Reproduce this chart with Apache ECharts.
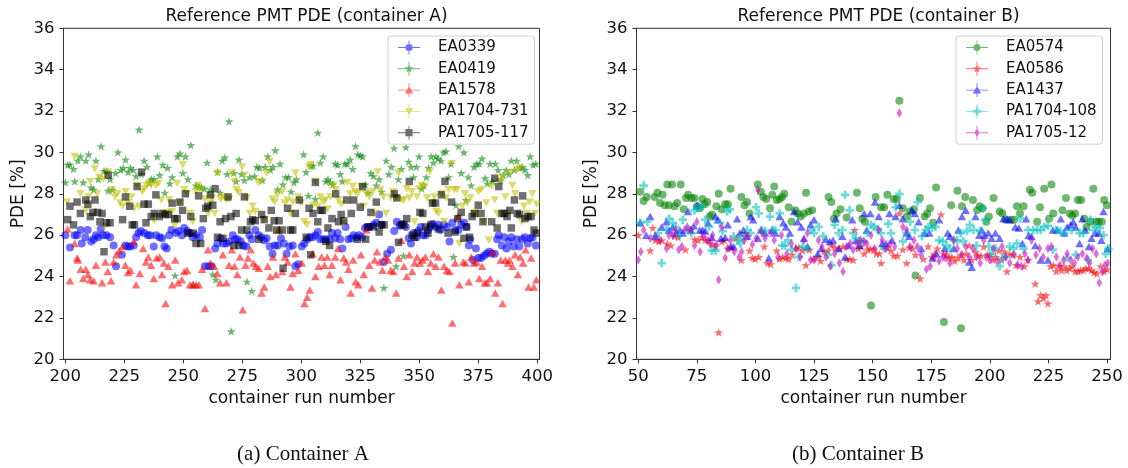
<!DOCTYPE html>
<html>
<head>
<meta charset="utf-8">
<script src="https://cdn.jsdelivr.net/npm/echarts@6/dist/echarts.min.js"></script>
<style>
html,body{margin:0;padding:0;background:#fff;}
#chart{width:1128px;height:468px;}
</style>
</head>
<body>
<div id="chart"></div>
<script>
// ---------- tick values ----------
const xTicksA = [200, 225, 250, 275, 300, 325, 350, 375, 400];
const xTicksB = [50, 75, 100, 125, 150, 175, 200, 225, 250];
const yTicks = [20, 22, 24, 26, 28, 30, 32, 34, 36];
// axis limits (frame slightly wider than the outer ticks)
const xLimA = [199.25, 400.95];
const xLimB = [49.25, 251.5];

// ---------- titles ----------
const titleA = 'Reference PMT PDE (container A)';
const titleB = 'Reference PMT PDE (container B)';
const captionA = '(a) Container A';
const captionB = '(b) Container B';
const xName = 'container run number';
const yName = 'PDE [%]';

// ---------- container A data: [run, PDE %] ----------
const A_EA0339 = [[200,26.0],[202,25.4],[204,26.0],[205,26.0],[206.5,26.25],[207,25.6],[208.5,25.9],[209.5,26.25],[211,25.7],[212,25.8],[213,26.0],[214,25.9],[215,26.3],[216,26.0],[217.5,26.0],[219,25.9],[220.5,25.5],[221.5,24.5],[224,25.05],[225.5,25.5],[226.5,25.45],[227.5,25.45],[229,25.5],[230,25.9],[231,26.1],[232,26.2],[233.5,26.1],[235,26.0],[236,26.0],[237.5,25.45],[238.5,26.0],[240,25.9],[241,25.85],[242,25.45],[243,25.35],[244,26.0],[245,26.25],[246.8,26.1],[248,26.2],[249.4,26.0],[250.4,26.35],[251.6,26.2],[252.8,26.1],[254,25.9],[255.4,26.0],[257,25.9],[258,26.25],[259.2,24.5],[260.7,24.5],[262,24.5],[263.5,25.35],[264.5,25.6],[265.8,25.85],[267,25.6],[268.3,25.6],[269.5,25.7],[271,26.0],[272,25.8],[273,25.8],[274.4,25.7],[275.5,25.5],[276.7,25.45],[278,26.0],[279,25.8],[280.5,26.25],[282,26.0],[283,25.9],[284.3,25.75],[285.3,25.85],[286.6,25.45],[287.8,25.1],[288.8,25.5],[290,25.5],[291.4,25.85],[292.6,25.6],[293.8,25.1],[295,25.45],[296.4,25.5],[297.5,24.5],[298.7,24.6],[300.2,25.45],[301.3,25.6],[302.5,25.8],[303.6,25.9],[304.8,25.9],[306,26.0],[307,26.15],[308,25.8],[309.3,25.8],[310.5,25.8],[312,25.8],[313,26.1],[314.4,25.85],[315.4,26.1],[316.5,25.8],[317.4,25.35],[318.8,26.4],[320,25.8],[321.2,25.85],[322.2,26.0],[323.4,25.9],[324.5,26.0],[325.7,25.9],[327,26.35],[328,26.4],[329,26.4],[330.6,26.5],[331.8,26.6],[333,27.0],[334,26.5],[335,24.7],[336.4,25.1],[338,25.3],[339.4,26.2],[340.5,26.65],[341.7,26.45],[342.7,26.55],[344.3,26.4],[345.5,25.85],[346.5,25.6],[347.6,26.1],[348.8,25.9],[349.6,26.2],[350.6,26.4],[351.6,26.0],[352.6,26.0],[353.7,26.25],[354.6,26.4],[355.6,26.55],[356.9,26.4],[358,26.5],[359,26.25],[360.5,26.5],[361.7,26.4],[362.8,25.7],[364,26.6],[365.2,26.25],[366.6,26.25],[367.8,26.5],[369,26.6],[370,26.4],[371,25.5],[371.6,25.8],[372.8,24.8],[374,25.35],[375,24.9],[376.2,24.9],[377.4,25.0],[378.4,25.1],[379.6,25.2],[380.7,25.1],[382,25.1],[383,25.8],[383.7,26.0],[385,25.5],[386,25.9],[387,25.35],[388,25.7],[389,25.9],[390,25.45],[391.3,25.8],[392.4,25.45],[393.6,25.8],[394.7,25.9],[396,25.6],[397,25.85],[398,25.9],[399.4,25.5]];

const A_EA0419 = [[200,28.55],[201,29.4],[202,29.4],[203.5,29.2],[204,28.6],[205.3,29.6],[206.4,29.8],[207.6,28.55],[208.7,29.6],[209.9,29.9],[211,28.3],[212,28.2],[213,29.6],[214,28.7],[215.2,30.3],[216.4,29.1],[217.5,29.1],[218.2,28.15],[219,28.7],[220,28.2],[221.3,29.0],[222.3,30.0],[223.5,29.15],[224.6,29.25],[225.5,29.65],[226.6,29.05],[227.6,29.25],[228.8,29.15],[230,28.85],[231.3,31.1],[232.3,28.95],[233.4,29.6],[234.6,29.3],[235.7,28.55],[236.4,28.7],[237.6,28.7],[239,29.8],[240,28.9],[241.3,29.4],[242.2,28.05],[243.3,29.25],[244.3,28.5],[245.3,28.8],[246.5,24.05],[247.5,29.8],[248.6,29.95],[249.8,29.0],[250.9,29.8],[252,28.7],[253.2,30.35],[254.4,23.6],[255.4,28.4],[256.6,28.35],[257.7,28.3],[258.9,28.25],[260.1,29.5],[261.5,28.2],[262.5,24.1],[263.8,23.85],[264.5,29.05],[265.6,28.05],[266.5,29.6],[267.6,29.75],[268.6,28.95],[269.4,31.5],[270.3,21.35],[271.4,29.0],[272.4,28.6],[273.6,29.65],[274.7,28.95],[275.9,28.65],[277,23.75],[278.2,28.8],[279,23.3],[280.2,28.85],[281.2,29.3],[282.3,29.25],[283.5,28.65],[284.7,29.3],[285.8,29.8],[286.9,29.15],[288,29.3],[289,30.1],[290,28.2],[291,29.45],[292.2,28.45],[293.4,28.8],[294.6,28.8],[295.7,28.1],[296.9,28.55],[297.9,28.7],[301,29.9],[302,29.05],[303,27.9],[304,29.35],[305,29.35],[306,27.75],[307,30.95],[308.1,29.5],[309.3,29.8],[310.4,28.6],[311.3,28.7],[312.4,28.55],[313.4,28.45],[314.4,29.45],[315.4,29.4],[316.5,28.95],[317.4,28.6],[318.5,29.45],[319.5,29.45],[320.7,29.65],[321.8,29.2],[323,30.3],[324,29.9],[325,29.85],[326,29.8],[327.1,28.45],[328.3,28.05],[329.5,29.0],[330.6,28.85],[331.8,28.4],[333,28.7],[334,28.1],[335,23.45],[336,29.6],[337.1,28.95],[338.2,29.3],[339.3,30.2],[340.2,24.5],[341.2,28.7],[342.4,29.2],[343.3,25.0],[344.3,30.25],[345.5,29.55],[346.5,29.3],[347.6,28.8],[348.8,29.3],[349.9,29.8],[351,28.25],[351.9,28.4],[353,28.8],[354,29.25],[355,29.8],[356,29.5],[357,29.8],[358,29.7],[359.2,29.6],[360.3,30.0],[361.3,30.05],[362.4,28.8],[363.5,29.45],[364.5,24.95],[365.5,27.45],[366.7,30.3],[367.8,29.0],[368.9,30.0],[369.8,27.7],[370.8,28.8],[372,28.4],[373.2,29.3],[374.3,29.45],[375.4,29.45],[376.6,29.7],[377.9,28.75],[378.9,28.5],[380,29.45],[381,28.6],[382.2,29.45],[383.4,29.15],[384.5,28.65],[385.6,28.9],[386.8,29.15],[388,28.95],[389,29.6],[390.3,29.15],[391.3,29.6],[392.6,29.25],[393.6,29.3],[394.8,29.15],[396,28.9],[397,29.8],[398.2,29.4],[399.4,29.45]];

const A_EA1578 = [[201,26.3],[202,23.8],[204,25.6],[205,24.9],[205.3,24.8],[206.5,24.35],[207.6,23.9],[208.7,24.35],[209.6,24.1],[210.6,23.85],[212,23.8],[213,24.55],[215.6,23.7],[217,24.7],[218,24.25],[219.4,23.8],[220.5,24.7],[221.6,25.05],[222.8,25.25],[224.3,25.45],[225.5,24.55],[226.6,24.2],[227.6,24.3],[229,25.7],[230,23.6],[231.6,24.15],[233,25.35],[234.2,24.7],[235.2,24.95],[236.4,24.55],[237.5,23.9],[238.7,24.9],[240,24.95],[241,24.1],[241.8,24.65],[242.5,22.7],[243.7,24.5],[245.3,23.6],[246.6,24.8],[247.8,23.7],[249.4,23.85],[250.4,24.25],[251.6,24.3],[252.8,23.6],[254,23.6],[255.4,23.6],[256.6,23.6],[258,24.35],[259.2,22.45],[260.5,25.3],[261.5,24.65],[263,24.5],[264.4,24.15],[265.6,23.7],[266.8,25.05],[268.3,23.7],[269.4,24.55],[270.6,25.3],[271.7,24.5],[272.9,24.1],[274,24.95],[275.2,22.4],[276.4,24.55],[277.4,24.9],[278.6,25.3],[279.7,24.65],[280.8,24.5],[282,24.4],[283.2,23.2],[284.3,23.5],[285.8,24.5],[286.9,24.0],[288,24.95],[289.3,24.1],[290.4,26.25],[292,24.25],[293,24.95],[294.2,24.7],[295.4,23.5],[296.4,24.15],[297.5,25.1],[298.7,24.3],[300.2,24.65],[301.4,22.7],[302.5,23.0],[303.6,23.35],[304.8,25.1],[306,24.0],[307.4,24.5],[308.6,24.95],[309.8,24.55],[311,24.95],[312,24.1],[313,24.55],[314.4,24.95],[315.6,25.35],[316.6,23.85],[318,24.9],[319,24.7],[320,24.35],[321,23.2],[322,24.8],[323,23.75],[324.2,23.6],[325.3,25.05],[326.5,24.1],[327.6,26.25],[328.8,24.55],[330,23.45],[331.1,24.8],[332.1,25.2],[333.3,24.7],[334.4,24.3],[335.6,24.95],[336.7,24.8],[337.9,24.3],[339,24.25],[340.2,23.2],[341.2,24.9],[342.4,25.75],[343.5,24.5],[344.7,24.0],[345.8,25.05],[347,24.25],[348,24.65],[349.1,24.95],[350.3,24.65],[351.4,24.8],[352.6,24.95],[353.7,24.25],[354.9,24.65],[356,25.1],[357,24.5],[358.2,24.95],[359.4,23.35],[360.5,24.5],[361.7,24.3],[362.8,24.25],[364,21.75],[365.2,24.65],[366.3,26.9],[367,23.6],[368.6,24.7],[369.6,24.65],[371,23.75],[372,24.95],[373.2,24.65],[374.3,24.7],[375.4,23.9],[376.6,24.5],[377.7,23.7],[378.7,23.7],[380,23.9],[381,25.2],[382.2,23.2],[383.3,23.7],[384.5,24.8],[385.3,22.7],[386.5,24.8],[387.5,24.65],[388.3,24.8],[389.5,24.5],[390.6,25.05],[391.8,24.1],[392.8,24.95],[394,24.65],[395,25.3],[396.3,23.5],[397.4,24.9],[398.6,23.5],[399.6,23.85]];

const A_PA1704_731 = [[200.7,27.6],[204,29.8],[206.4,28.0],[208.8,27.2],[209.9,27.85],[210.6,28.6],[212.5,29.2],[213.4,28.0],[214.4,28.8],[216,28.7],[216.7,26.4],[218.2,29.05],[219.7,28.2],[221,27.85],[222,28.0],[223.2,27.55],[224.3,27.4],[225.5,28.1],[226.6,27.55],[228,27.85],[229.2,27.3],[230.4,28.4],[231.4,27.4],[232.6,28.1],[233.4,28.25],[234.6,28.4],[235.4,28.5],[236.4,28.4],[237.7,26.7],[238.4,28.4],[239.5,28.5],[240.7,27.7],[241.8,27.05],[243.3,27.1],[244,27.7],[245.3,27.15],[246.3,26.45],[247.4,28.5],[248.3,27.55],[249.8,29.4],[250.4,28.2],[251.6,28.0],[253,27.05],[254,26.65],[255.4,28.1],[256.2,28.4],[257.7,28.2],[259.2,27.75],[260.5,27.05],[261.5,27.55],[262.2,27.8],[263.3,27.05],[264.5,29.0],[265.8,27.75],[266.8,27.85],[268.3,27.7],[269.5,27.75],[270.6,29.0],[271.7,28.6],[272.6,28.2],[273.6,28.05],[274.9,29.3],[275.9,28.9],[277,27.8],[278.2,27.05],[279.4,27.4],[280.5,27.15],[281.7,28.55],[282.8,28.6],[284,26.75],[285.3,29.0],[286.6,29.55],[287.8,27.75],[288.8,27.6],[289.9,27.95],[290.8,26.1],[291.9,28.1],[293,27.55],[294.2,27.7],[295.4,27.05],[296.4,27.6],[297.5,29.0],[298.7,27.85],[299.9,27.55],[301.4,26.65],[302.5,26.5],[303.3,29.3],[304,29.4],[305,27.45],[306,28.6],[307,27.4],[308.1,27.85],[309.3,27.6],[310.2,27.7],[311.2,27.25],[312.4,27.85],[313.6,28.4],[314.6,28.2],[315.7,27.7],[316.9,27.5],[318,26.55],[319.5,28.55],[320.7,28.0],[321.8,28.35],[323,28.1],[324,28.0],[325.3,28.35],[326.4,27.4],[327.6,28.0],[328.8,27.85],[330.3,28.1],[331.4,27.05],[332.4,29.05],[333.6,28.2],[334.8,27.85],[335.9,27.05],[337.9,27.8],[339,28.1],[340.2,27.8],[341.2,29.0],[342.7,27.7],[343.5,27.7],[344.7,28.25],[345.8,27.8],[346.8,28.1],[348,26.65],[349.1,27.85],[350,28.25],[351,28.4],[352.1,28.35],[353.3,27.8],[354.4,29.05],[355.3,27.55],[356.4,27.85],[357.2,27.15],[358.2,27.05],[359.4,28.0],[360.5,26.65],[361.4,27.8],[362.4,28.2],[363.7,29.45],[364.8,28.2],[366,28.2],[367,25.6],[368.2,27.4],[369.3,28.0],[370.3,27.55],[371.6,27.8],[372.8,27.05],[373.8,27.05],[375,28.1],[376.2,28.2],[377.2,26.65],[378.4,27.55],[379.5,25.75],[380.7,28.35],[382,27.7],[383,27.05],[384,28.6],[385.3,28.8],[386.5,27.85],[387.6,27.05],[388.6,29.0],[389.5,28.4],[390.6,28.0],[391.3,29.15],[392.4,29.25],[393.4,26.65],[394.4,27.4],[395.6,27.05],[396.7,27.6],[397.9,28.0],[399,27.05],[399.8,27.5]];

const A_PA1705_117 = [[201,26.75],[202,27.4],[203.5,26.5],[205,27.6],[206.4,27.05],[208.7,27.7],[209.6,27.5],[210.6,26.9],[211.7,27.1],[212.6,27.7],[213.7,27.1],[214.7,26.65],[215.6,27.05],[216.4,25.2],[217.5,26.6],[218.2,28.9],[219,26.6],[224.3,26.75],[225.5,27.85],[227.3,27.4],[228.4,26.5],[229.3,26.5],[230.4,28.35],[232.3,29.05],[233.4,27.5],[234.2,26.6],[235.2,27.5],[236.4,26.9],[237.7,27.05],[238.4,27.95],[239.8,26.9],[241,27.05],[242.5,27.0],[243.7,27.0],[245.3,27.55],[246.3,26.8],[247.4,26.8],[248.6,27.6],[249.7,27.2],[250.9,28.0],[252,26.1],[253.2,26.9],[254.2,26.1],[255.4,25.6],[256.5,27.9],[257.4,25.6],[258.5,26.8],[259.5,27.3],[260.4,27.4],[261.5,27.95],[262.5,27.45],[263.5,28.25],[264.5,25.9],[265.6,26.65],[266.8,25.85],[267.9,26.8],[269,27.85],[270.2,26.9],[271.4,25.5],[272.4,27.05],[273.6,25.5],[274.7,26.25],[275.9,27.85],[277,26.25],[278.5,26.65],[279.4,26.75],[280.5,26.7],[282,25.8],[283.2,27.0],[284.3,26.75],[286.3,26.35],[287.3,27.2],[288.5,26.7],[289.6,26.25],[290.6,26.7],[291.9,26.25],[292.3,24.4],[294.2,27.3],[295.4,26.25],[296.4,26.25],[297.5,27.05],[299.2,27.7],[302.1,25.9],[303.3,27.3],[304,25.05],[305,27.05],[306,28.55],[307,26.65],[308.2,27.2],[309,27.2],[310.4,25.7],[311.3,26.35],[312,25.5],[313,26.8],[314.6,28.0],[315.8,26.65],[316.9,27.0],[318,26.7],[319.2,27.7],[321.2,27.05],[322.2,27.7],[323.7,25.8],[325,27.35],[326,28.35],[327.3,25.8],[328.3,26.4],[329.5,27.1],[330.6,26.4],[331.8,27.6],[333,26.15],[334,26.5],[335.1,26.5],[339.4,28.0],[340.5,27.8],[341.2,25.65],[342.4,26.5],[343.5,26.5],[344.7,26.8],[345.8,28.6],[347,26.0],[348,25.9],[349.2,26.1],[350.3,27.1],[351.5,27.05],[352.6,26.4],[353.7,26.1],[354.9,26.5],[355.6,27.55],[356.9,27.55],[358.2,26.3],[359.4,27.95],[360.9,28.6],[362.2,26.1],[363.7,27.6],[365.2,26.15],[366.3,26.8],[367.8,27.1],[368.9,25.85],[370,26.4],[371.3,25.9],[372.4,26.9],[373.4,27.05],[375,27.45],[376.2,27.05],[377,26.65],[380.7,26.65],[382,28.75],[383,26.35],[383.7,28.35],[385,27.05],[386,27.05],[387.2,26.9],[388.4,27.2],[389,26.35],[390.3,27.7],[391.5,27.05],[392.5,27.0],[393.8,27.9],[394.8,26.8],[396,26.9],[397.3,26.9],[398.6,26.25],[399.5,26.1]];

// ---------- container B data: [run, PDE %] ----------
const B_EA0574 = [[50.8,28.1],[52.3,27.65],[53.6,27.85],[57,27.85],[58.2,28.05],[59.3,27.55],[60.4,27.95],[61.3,27.45],[62.4,28.45],[63.1,27.45],[64.4,28.45],[65.5,27.4],[66.6,27.55],[68.1,28.45],[69.4,27.25],[70.4,27.8],[71.3,27.95],[72.7,27.8],[74,27.8],[75,27.4],[76.3,27.3],[77.4,27.75],[78.3,27.5],[79.4,27.6],[80.5,26.9],[81.4,27.0],[83.3,27.4],[84.3,28.0],[85.6,27.25],[87.1,27.5],[88.2,27.5],[89.4,28.25],[94,27.85],[95.3,27.45],[96.4,27.6],[97.5,27.05],[101,28.45],[102.3,28.1],[103.4,27.85],[104.6,27.75],[106.2,27.3],[107.2,27.95],[108,28.35],[109.1,27.7],[110.3,27.75],[111.4,27.85],[112.3,28.0],[114.2,27.35],[115.4,26.65],[117,27.2],[118,27.05],[119.3,26.9],[120.7,27.05],[121.6,28.05],[122.7,27.15],[124.2,27.2],[131.2,27.85],[132.4,27.6],[133.5,26.8],[134.6,27.05],[136.3,27.25],[138.9,26.85],[143.3,28.05],[144.5,27.3],[145.6,26.8],[146.7,26.65],[149.3,22.6],[151.3,27.85],[153.6,27.35],[154.9,27.35],[156.3,27.95],[159,27.75],[160.3,27.75],[161.4,32.5],[162.9,27.3],[164.5,26.9],[166,27.15],[167.6,27.25],[168.3,24.05],[170.2,27.8],[172.2,26.9],[173.3,27.05],[174.5,27.3],[175.8,26.6],[177.1,28.3],[180.4,21.8],[183.5,27.45],[186.2,28.15],[187.7,21.5],[188.1,27.4],[189.5,27.85],[192.8,27.7],[194.6,27.2],[195.7,27.4],[196.9,27.3],[198.5,26.65],[199.6,26.9],[201.6,27.8],[204.2,27.15],[205.4,27.05],[206.7,26.75],[208.9,26.75],[210.4,26.75],[211.6,27.4],[212.9,27.05],[214.4,27.4],[217.1,28.2],[218.1,28.05],[220.2,26.65],[221.4,27.35],[223.2,28.25],[225.3,26.8],[226.3,28.45],[227.1,27.05],[231,27.2],[232.5,27.8],[234.1,27.05],[235.2,26.95],[236.4,27.05],[237.6,27.7],[239,27.7],[240.3,26.8],[241.3,26.4],[243,26.65],[244.2,28.25],[245.4,26.65],[246.5,26.65],[247.8,26.65],[248.8,27.7],[249.9,27.45]];

const B_EA0586 = [[50,26.0],[55.1,25.25],[56.2,26.35],[57.3,25.75],[58.8,25.7],[60,25.75],[62.4,25.6],[63.9,25.5],[65.5,25.95],[67,25.9],[70.1,25.3],[72.4,26.25],[74,25.8],[75.5,25.75],[77.1,25.9],[78.6,25.75],[80.2,25.75],[81.7,25.55],[83,25.45],[84.3,21.3],[85.6,25.7],[86.7,25.75],[88.2,25.35],[89.9,25.4],[91.8,25.85],[94,24.8],[95.6,26.1],[97.5,25.25],[98.7,24.9],[99.8,24.85],[101.4,24.95],[103.8,25.45],[105.2,24.65],[106.5,24.6],[109.1,25.25],[110.3,24.85],[111.6,24.95],[113,24.9],[114.2,24.85],[115.7,25.05],[117.3,25.35],[118.5,25.4],[120.1,25.25],[121.5,24.55],[123,25.3],[124.7,24.85],[126.6,24.95],[127.8,24.75],[129.4,25.2],[131,25.25],[132.4,25.5],[134,25.4],[135.8,25.35],[137.4,25.45],[138.9,24.85],[140.2,24.85],[141.7,24.8],[142.3,26.25],[143.9,25.35],[145.1,25.45],[146.4,25.1],[147.9,25.3],[149,25.35],[150.5,25.3],[151.6,25.1],[152.9,25.1],[153.6,24.65],[154.9,25.45],[156.3,25.4],[157.8,25.25],[159,25.0],[160.6,25.0],[161.4,27.05],[162.9,25.3],[164.5,24.65],[165.7,25.4],[167.1,25.35],[168.3,25.05],[170.3,23.9],[171.7,24.85],[173.7,25.45],[175.3,24.95],[176.4,25.1],[177.6,25.35],[179.2,27.0],[180.3,25.1],[181.5,25.05],[182.6,24.9],[183.8,24.95],[185,24.75],[186.4,24.9],[187.7,25.05],[189,24.8],[190,25.1],[191.2,25.5],[192.3,24.8],[193.9,25.2],[195,25.0],[196.2,25.0],[197.4,25.45],[199,25.05],[200,25.05],[201.3,24.8],[202.4,24.95],[203.9,25.25],[205,24.8],[206.2,25.2],[207.3,24.25],[208.5,25.1],[209.8,25.05],[211.3,24.55],[212.9,24.95],[214.7,24.5],[216.3,24.8],[219.4,23.65],[220.6,22.8],[221.7,23.1],[222.9,22.95],[224,23.1],[224.8,22.7],[225.9,24.5],[227.1,24.55],[228.3,24.25],[229.4,24.5],[230.6,24.3],[231.7,24.5],[232.8,24.3],[234,24.4],[235.1,24.5],[236.4,24.25],[237.6,24.25],[238.7,24.3],[239.9,24.3],[241,24.4],[242.3,24.4],[243.4,24.3],[244.5,24.2],[245.7,24.15],[247.3,24.5],[248.8,24.25],[250,24.35]];

const B_EA1437 = [[50.8,26.6],[53.4,26.0],[55.1,26.9],[57.3,25.95],[60,26.4],[62,26.65],[63.1,26.25],[64.7,26.4],[66.2,26.1],[67.8,26.25],[69,26.1],[71.2,27.15],[72.4,26.25],[73.7,26.45],[75.2,27.45],[76.3,26.25],[77.5,26.25],[78.6,26.2],[79.8,26.6],[81.4,25.9],[83,26.9],[84,26.75],[85.3,25.85],[87.1,25.9],[88.2,26.5],[89.4,25.45],[90.7,25.45],[92.2,26.8],[93.3,26.1],[94.9,26.25],[96.4,25.95],[98,26.9],[99,26.75],[101,25.85],[102.3,26.25],[104.1,26.1],[105.7,24.9],[107.2,26.25],[108.5,26.1],[110.3,26.9],[111.9,26.6],[113,26.4],[114.7,26.1],[116.5,27.15],[118,26.65],[119.6,26.4],[120.7,25.85],[122.2,25.45],[123.5,26.5],[125,26.75],[126.6,25.1],[128.1,25.35],[130,25.8],[131.7,25.7],[133.1,25.75],[134.3,26.8],[135.5,25.35],[137.1,25.95],[138.2,24.95],[139.7,25.5],[141.3,26.75],[142.8,25.75],[144.4,25.5],[146.4,27.05],[147.5,26.25],[149,27.05],[151,27.6],[152.6,26.9],[154.1,25.6],[155.7,25.6],[157.2,27.05],[158.3,25.75],[159.8,26.9],[161.4,27.45],[162.9,26.8],[164.5,26.1],[165.6,25.95],[166.8,27.2],[168,27.05],[169.6,26.65],[170.7,25.35],[172.2,26.1],[174.2,26.1],[175.6,24.9],[177.3,25.1],[178.4,26.75],[180.7,25.35],[182,26.1],[183,25.95],[184.6,25.35],[186.6,26.25],[188.1,26.9],[189.7,27.2],[191.2,24.7],[192.3,24.45],[193.9,26.9],[195.5,26.0],[196.5,26.25],[197.7,26.0],[199.3,26.1],[200.8,25.85],[202.4,26.1],[204.2,25.85],[205.8,26.8],[207.3,26.8],[208.5,26.75],[210.9,26.4],[212.4,26.35],[213.9,25.6],[215.5,26.8],[216.6,26.0],[217.8,25.95],[219.4,25.5],[221.7,24.8],[224.8,24.8],[226.9,26.25],[228.7,26.25],[230.3,26.8],[231.8,26.1],[233,26.4],[234.5,26.5],[235.6,26.65],[236.7,26.4],[238.3,25.6],[239.5,26.8],[240.7,26.25],[242.3,25.45],[243.4,25.85],[245,26.1],[246.5,26.1],[247.6,25.75],[248.5,27.15],[250.3,25.35]];

const B_PA1704_108 = [[50.8,26.6],[52.3,28.4],[53.9,26.65],[57.3,25.95],[58.5,26.1],[60,24.65],[62,26.25],[63.1,26.8],[64.7,26.6],[65.9,26.4],[67.5,26.0],[69,26.75],[71,26.25],[72.7,26.1],[74,27.2],[75.2,27.3],[77.1,27.4],[78.6,26.75],[80.2,26.4],[81.4,25.25],[83,25.25],[84.8,26.6],[86,26.2],[87.9,27.15],[89.1,27.25],[90.7,25.95],[92.5,25.75],[93.6,25.6],[94.9,25.85],[96.4,26.25],[98,26.1],[100.3,27.35],[101.4,27.05],[102.7,26.25],[104.1,26.2],[106.2,26.9],[107.2,26.25],[108.5,26.25],[110.3,27.05],[111.4,25.5],[112.6,25.5],[113.9,25.75],[115.4,25.3],[117.3,23.45],[118.5,24.95],[120.1,25.45],[121.9,25.35],[123.8,26.25],[125,26.1],[127,26.4],[128.9,25.95],[130.9,25.05],[132.4,24.55],[133.8,26.5],[135.5,26.1],[137.1,26.25],[138.2,27.95],[140.2,27.2],[141.7,26.1],[142.8,25.85],[144.4,25.7],[145.9,25.7],[147.8,26.1],[149.3,26.5],[150.5,26.4],[152.1,26.3],[153.6,26.1],[154.9,25.35],[156.7,26.55],[157.8,26.1],[159.8,27.35],[161.4,28.0],[162.9,25.7],[164.5,26.1],[166,26.65],[168,26.25],[169.2,27.6],[171.1,25.95],[172.7,26.25],[173.7,26.4],[175.3,26.35],[176.8,26.4],[178.4,25.75],[179.9,25.7],[181.5,25.5],[183,25.35],[184.6,25.75],[186.1,25.75],[187.7,26.1],[188.7,25.7],[190.3,26.2],[191.5,26.5],[193.1,26.25],[194.3,25.5],[195.9,26.2],[196.9,27.3],[198,26.75],[199.6,25.45],[200.8,25.1],[202.4,25.35],[204.2,24.5],[205.4,24.9],[207,24.95],[208.5,25.45],[210.1,25.35],[211.6,25.6],[212.9,26.8],[214.4,25.35],[216.3,26.25],[218.6,26.25],[220.2,26.25],[221.7,26.25],[223.2,26.4],[224.8,26.45],[226.9,25.3],[228.4,26.25],[230,26.2],[231.8,26.1],[233,24.9],[234.9,26.25],[236.7,25.05],[238.3,26.1],[239.8,26.1],[241.9,24.8],[243,26.75],[244.2,26.25],[245.4,26.4],[247,26.35],[248.5,26.0],[249.5,25.1],[250.6,25.35]];

const B_PA1705_12 = [[50,24.8],[51.1,25.2],[52.3,26.25],[55.1,25.85],[57.3,25.95],[59.3,25.75],[62.1,25.35],[63.1,26.0],[64.7,26.0],[65.9,26.25],[67.3,25.3],[68.6,25.45],[69.8,26.25],[70.9,26.4],[72.4,26.25],[74,25.5],[75,26.65],[76.4,25.2],[77.8,25.95],[79.4,25.75],[80.6,25.6],[81.7,26.0],[83.3,25.55],[84.3,23.85],[85.6,26.4],[87.1,24.9],[88.2,25.35],[89.4,25.75],[91,25.2],[93,24.95],[94.1,25.2],[95.3,25.75],[96.9,25.95],[98.7,25.55],[100.3,25.85],[101,28.2],[102.7,26.15],[104.1,25.85],[106.5,26.1],[108,25.75],[109.6,24.95],[111.1,26.0],[113.4,25.1],[115.3,25.6],[117.3,25.35],[119.1,24.95],[120.7,25.75],[122.2,26.1],[123.5,24.8],[125,24.8],[126.9,25.75],[128.4,25.45],[130.1,24.95],[131.9,24.5],[133.8,25.1],[135.8,24.65],[137.4,24.25],[138.9,25.45],[140.5,25.6],[141.7,25.3],[143.3,25.6],[144.8,25.75],[146.4,25.7],[147.5,25.6],[149.3,26.0],[150.9,25.35],[152.6,26.25],[154.1,25.75],[155.7,25.35],[157.5,25.6],[159.4,25.45],[161.4,31.9],[162.9,26.4],[164.5,26.25],[166,25.45],[167.6,25.75],[169.1,25.45],[170.7,25.05],[173,24.35],[174.6,24.5],[176.1,24.9],[178.4,24.75],[180,24.95],[181.1,24.9],[183,24.65],[184.6,25.75],[186.1,25.35],[188.1,25.05],[189.7,25.45],[191.2,24.95],[192.8,25.35],[194.3,24.95],[195.9,24.65],[197.4,25.75],[198.5,24.95],[200,24.8],[201.6,25.35],[203.2,24.75],[205.2,25.45],[206.7,24.95],[208.5,24.65],[210.4,25.05],[211.9,24.55],[213.5,24.5],[215,25.1],[216.3,24.8],[217.8,25.75],[219.7,25.05],[221.2,25.35],[222.8,24.95],[224.8,25.35],[226.3,25.45],[228.4,24.95],[230,24.55],[231.5,24.8],[233,25.1],[234.5,24.8],[236.1,24.65],[237.6,24.95],[239.5,25.1],[241.3,24.9],[242.6,24.65],[243.8,25.35],[245.4,25.1],[246.7,23.7],[248,24.25],[249.1,24.55],[250.3,24.65]];

// ---------- styling ----------
const FONT = 'DejaVu Sans';
const ALPHA = 0.57;

const SYM = {
  circle: 'circle',
  star: 'path://M0,-10L2.35,-3.24L9.51,-3.09L3.8,1.24L5.88,8.09L0,4L-5.88,8.09L-3.8,1.24L-9.51,-3.09L-2.35,-3.24Z',
  triUp: 'triangle',
  triDown: 'path://M0,0H10L5,8.66Z',
  square: 'rect',
  plus: 'path://M-1.6,-5H1.6V-1.6H5V1.6H1.6V5H-1.6V1.6H-5V-1.6H-1.6Z',
  thinDiamond: 'diamond'
};
const SYM_SIZE = {
  circle: 8, star: [9, 8.5], triUp: [8.5, 7.5], triDown: [8.5, 7.5], square: 7.5, plus: 8.5, thinDiamond: [5.5, 9.5]
};
// legend icons: errorbar cross + marker, in a 22x14 box
const CROSS = 'M0,6.55H22V7.45H0Z M10.55,0H11.45V14H10.55Z ';
const LEG_MARK = {
  circle: 'M11,3.4A3.6,3.6 0 1 1 11,10.6A3.6,3.6 0 1 1 11,3.4Z',
  star: 'M11,2.3L12.1,5.48L15.47,5.55L12.78,7.59L13.76,10.8L11,8.88L8.24,10.8L9.22,7.59L6.53,5.55L9.9,5.48Z',
  triUp: 'M11,3.2L15.2,10.3L6.8,10.3Z',
  triDown: 'M6.8,3.7H15.2L11,10.8Z',
  square: 'M7.4,3.4H14.6V10.6H7.4Z',
  plus: 'M9.7,2.8H12.3V5.7H15.2V8.3H12.3V11.2H9.7V8.3H6.8V5.7H9.7Z',
  thinDiamond: 'M11,2.3L13.4,7L11,11.7L8.6,7Z'
};

const seriesDefs = [
  {name: 'EA0339', data: A_EA0339, color: '#0000ff', sym: 'circle', grid: 0},
  {name: 'EA0419', data: A_EA0419, color: '#008000', sym: 'star', grid: 0},
  {name: 'EA1578', data: A_EA1578, color: '#ff0000', sym: 'triUp', grid: 0},
  {name: 'PA1704-731', data: A_PA1704_731, color: '#bfbf00', sym: 'triDown', grid: 0},
  {name: 'PA1705-117', data: A_PA1705_117, color: '#000000', sym: 'square', grid: 0},
  {name: 'EA0574', data: B_EA0574, color: '#008000', sym: 'circle', grid: 1},
  {name: 'EA0586', data: B_EA0586, color: '#ff0000', sym: 'star', grid: 1},
  {name: 'EA1437', data: B_EA1437, color: '#0000ff', sym: 'triUp', grid: 1},
  {name: 'PA1704-108', data: B_PA1704_108, color: '#00bfbf', sym: 'plus', grid: 1},
  {name: 'PA1705-12', data: B_PA1705_12, color: '#bf00bf', sym: 'thinDiamond', grid: 1}
];

const grids = [
  {left: 63.5, top: 28.3, width: 476, height: 331},
  {left: 636.5, top: 28.3, width: 474, height: 331}
];

function xAxisCfg(gi, ticks, lim) {
  return {
    type: 'value', gridIndex: gi,
    min: lim[0], max: lim[1],
    name: xName, nameLocation: 'middle', nameGap: 31,
    nameTextStyle: {fontFamily: FONT, fontSize: 17, color: '#111'},
    axisLine: {show: true, onZero: false, lineStyle: {color: '#333', width: 1}},
    axisTick: {show: true, inside: false, length: 4, lineStyle: {color: '#333'}, customValues: ticks},
    axisLabel: {fontFamily: FONT, fontSize: 16.5, color: '#111', margin: 9, customValues: ticks},
    splitLine: {show: false}
  };
}
function yAxisCfg(gi) {
  return {
    type: 'value', gridIndex: gi,
    min: yTicks[0], max: yTicks[yTicks.length - 1], interval: yTicks[1] - yTicks[0],
    name: yName, nameLocation: 'middle', nameGap: 36, nameRotate: 90,
    nameTextStyle: {fontFamily: FONT, fontSize: 17, color: '#111'},
    axisLine: {show: true, onZero: false, lineStyle: {color: '#333', width: 1}},
    axisTick: {show: true, inside: false, length: 4, lineStyle: {color: '#333'}},
    axisLabel: {fontFamily: FONT, fontSize: 16.5, color: '#111', margin: 9},
    splitLine: {show: false}
  };
}

function legendCfg(gi, left) {
  const defs = seriesDefs.filter(d => d.grid === gi);
  return {
    orient: 'vertical', left: left, top: 36,
    padding: [4, 6, 4, 10], itemGap: 6.3, itemWidth: 22, itemHeight: 14,
    backgroundColor: 'rgba(255,255,255,0.8)', borderColor: '#d0d0d0', borderWidth: 1, borderRadius: 3,
    textStyle: {fontFamily: FONT, fontSize: 15, color: '#111', padding: [0, 0, 0, 13]},
    selectedMode: false,
    data: defs.map(d => ({
      name: d.name,
      icon: 'path://' + CROSS + LEG_MARK[d.sym],
      itemStyle: {color: d.color, opacity: ALPHA}
    }))
  };
}

const chart = echarts.init(document.getElementById('chart'), null, {renderer: 'canvas'});
chart.setOption({
  animation: false,
  backgroundColor: '#ffffff',
  title: [
    {text: titleA, left: 301.5, top: 3, textAlign: 'center', textStyle: {fontFamily: FONT, fontSize: 17, fontWeight: 'normal', color: '#111'}},
    {text: titleB, left: 873.5, top: 3, textAlign: 'center', textStyle: {fontFamily: FONT, fontSize: 17, fontWeight: 'normal', color: '#111'}},
    {text: captionA, left: 298, top: 439, textAlign: 'center', textStyle: {fontFamily: 'Liberation Serif', fontSize: 21, fontWeight: 'normal', color: '#111'}},
    {text: captionB, left: 853, top: 439, textAlign: 'center', textStyle: {fontFamily: 'Liberation Serif', fontSize: 21, fontWeight: 'normal', color: '#111'}}
  ],
  grid: grids.map(g => Object.assign({show: true, borderColor: '#333', borderWidth: 1, backgroundColor: 'transparent'}, g)),
  xAxis: [xAxisCfg(0, xTicksA, xLimA), xAxisCfg(1, xTicksB, xLimB)],
  yAxis: [yAxisCfg(0), yAxisCfg(1)],
  legend: [legendCfg(0, 388), legendCfg(1, 956)],
  series: seriesDefs.map(d => ({
    type: 'scatter', name: d.name,
    xAxisIndex: d.grid, yAxisIndex: d.grid,
    data: d.data,
    symbol: SYM[d.sym], symbolSize: SYM_SIZE[d.sym],
    itemStyle: {color: d.color, opacity: ALPHA},
    emphasis: {disabled: true},
    clip: false
  }))
});
</script>
</body>
</html>
